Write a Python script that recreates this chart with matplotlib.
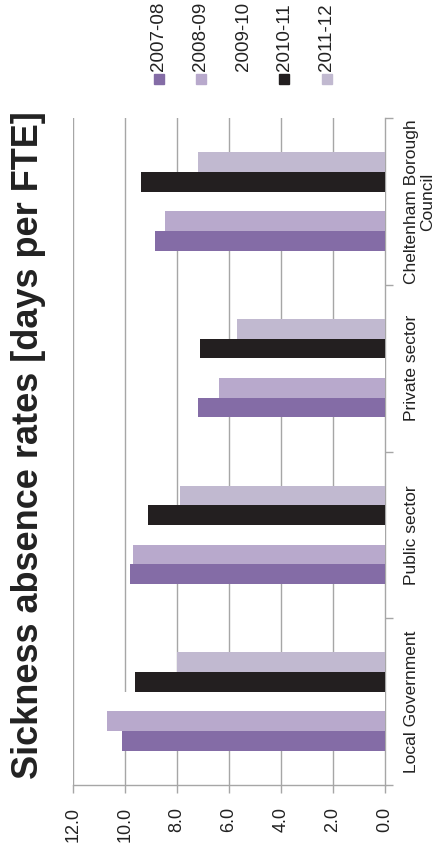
import numpy as np
import matplotlib
matplotlib.use('Agg')
import matplotlib.pyplot as plt
from matplotlib.patches import Rectangle

plt.rcParams['font.family'] = ['Liberation Sans Narrow', 'Liberation Sans', 'DejaVu Sans']

categories = ['Local Government', 'Public sector', 'Private sector', 'Cheltenham Borough\nCouncil']
series = ['2007-08', '2008-09', '2009-10', '2010-11', '2011-12']
colors = ['#846ca6', '#b8a9cc', '#ffffff', '#231f20', '#c1b9d0']

# days per FTE, one list per year (2009-10 is drawn in white)
y2007 = [10.1, 9.8, 7.2, 8.85]
y2008 = [10.7, 9.7, 6.4, 8.45]
y2009 = [10.3, 9.3, 6.8, 9.0]
y2010 = [9.6, 9.1, 7.1, 9.4]
y2011 = [8.0, 7.9, 5.7, 7.2]
values = [y2007, y2008, y2009, y2010, y2011]

yticks = [0, 2, 4, 6, 8, 10, 12]
ytick_labels = ['0.0', '2.0', '4.0', '6.0', '8.0', '10.0', '12.0']

fig = plt.figure(figsize=(4.43, 8.5), dpi=100)
ax = fig.add_axes([73 / 443, 65 / 850, 312 / 443, 667 / 850])

grid_c = '#a6a6a6'
pos = np.arange(len(categories))
h = 0.118
for i, (name, vals) in enumerate(zip(series, values)):
    ax.barh(pos + (i - 2) * h, vals, height=h, color=colors[i], zorder=3, label=name)

# value axis runs right to left, gridlines vertical
ax.set_xlim(12, 0)
ax.set_ylim(-0.5, 3.5)
ax.set_xticks(yticks)
ax.set_xticklabels(ytick_labels, rotation=90, fontsize=13, color='#222222')
for x in yticks[1:]:
    ax.axvline(x, color=grid_c, lw=1.0, zorder=1)

ax.tick_params(axis='x', direction='out', length=6, width=1, color=grid_c, pad=10)

# category axis sits on the right
ax.yaxis.tick_right()
ax.set_yticks(pos)
ax.set_yticklabels(categories, rotation=90, fontsize=12.5, va='center', ha='left',
                   multialignment='center', linespacing=1.05, color='#222222')
ax.set_yticks(np.arange(-0.5, 4, 1), minor=True)
ax.tick_params(axis='y', which='major', length=0, pad=14)
ax.tick_params(axis='y', which='minor', direction='out', length=6, width=1, color=grid_c)

for s in ['top', 'left']:
    ax.spines[s].set_visible(False)
for s in ['bottom', 'right']:
    ax.spines[s].set_color(grid_c)
    ax.spines[s].set_linewidth(1.0)

fig.text(29 / 443, 1 - 445 / 850, 'Sickness absence rates [days per FTE]', rotation=90,
         fontsize=26, fontweight='bold', ha='center', va='center', color='#222222')

# legend drawn along the top, rotated with the chart
leg_x = [159, 201, 243, 284, 327]
for x, name, c in zip(leg_x, series, colors):
    fig.patches.append(Rectangle(((x - 5) / 443, 1 - 84 / 850), 10 / 443, 10 / 850,
                                 transform=fig.transFigure, color=c))
    fig.text(x / 443, 1 - 71 / 850, name, rotation=90, fontsize=13.5,
             ha='center', va='bottom', color='#222222')

fig.savefig('out.png', dpi=100)
